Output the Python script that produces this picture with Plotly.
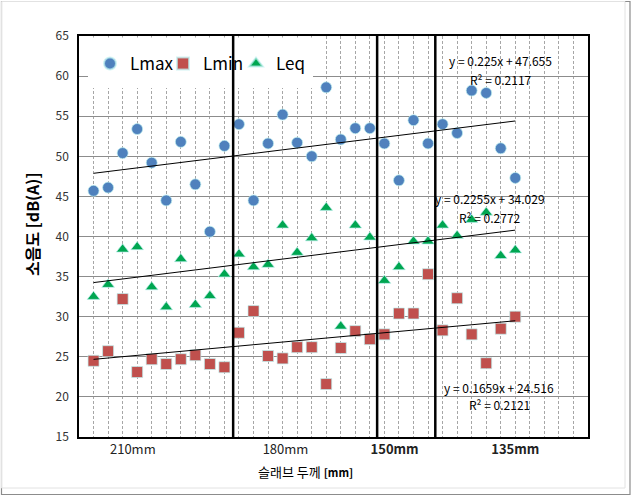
import plotly.graph_objects as go

# ---------------- data ----------------
idx = list(range(1, 31))
lmax = [45.7, 46.1, 50.4, 53.4, 49.2, 44.5, 51.8, 46.5, 40.6, 51.3,
        54.0, 44.5, 51.6, 55.2, 51.7, 50.0, 58.6, 52.1, 53.5, 53.5,
        51.6, 47.0, 54.5, 51.6, 54.0, 52.9, 58.2, 57.9, 51.0, 47.3]
lmin = [24.5, 25.7, 32.2, 23.1, 24.7, 24.1, 24.7, 25.2, 24.1, 23.7,
        28.0, 30.7, 25.1, 24.8, 26.2, 26.2, 21.6, 26.1, 28.2, 27.2,
        27.8, 30.4, 30.4, 35.3, 28.3, 32.3, 27.8, 24.2, 28.5, 30.0]
leq = [32.5, 34.0, 38.4, 38.7, 33.7, 31.2, 37.2, 31.5, 32.6, 35.3,
       37.8, 36.2, 36.5, 41.4, 38.0, 39.8, 43.6, 28.8, 41.4, 39.9,
       34.5, 36.2, 39.4, 39.4, 41.4, 40.1, 42.1, 43.0, 37.6, 38.3]

series_names = ["Lmax", "Lmin", "Leq"]
slopes = [0.225, 0.1659, 0.2255]
intercepts = [47.655, 24.516, 34.029]
eq_texts = ["y = 0.225x + 47.655", "y = 0.1659x + 24.516", "y = 0.2255x + 34.029"]
r2_texts = ["R² = 0.2117", "R² = 0.2121", "R² = 0.2772"]

group_labels = ["210mm", "180mm", "<b>150mm</b>", "<b>135mm</b>"]
group_label_pos = [3.7, 14.2, 21.7, 30.0]
divider_x = [10.6, 20.5, 24.5]

colors = ["#4F81BD", "#C0504D", "#00A651"]
symbols = ["circle", "square", "triangle-up"]

FONT = "Noto Sans CJK KR, Liberation Sans, sans-serif"

fig = go.Figure()
for name, vals, col, sym in zip(series_names, [lmax, lmin, leq], colors, symbols):
    fig.add_trace(go.Scatter(
        x=idx, y=vals, mode="markers", name=name,
        marker=dict(color=col, symbol=sym, size=11,
                    line=dict(color="rgba(190,240,240,0.7)", width=1)),
    ))

# trendlines
for a, b in zip(slopes, intercepts):
    xs = [idx[0], idx[-1]]
    fig.add_trace(go.Scatter(
        x=xs, y=[a * v + b for v in xs], mode="lines",
        line=dict(color="black", width=1), showlegend=False, hoverinfo="skip",
    ))

# equation annotations
eq_pos = [(29.0, 61.9, 59.6), (28.9, 21.2, 19.0), (28.25, 44.8, 42.4)]
for (ex, ey1, ey2), t1, t2 in zip(eq_pos, eq_texts, r2_texts):
    fig.add_annotation(x=ex, y=ey1, xref="x", yref="y", text=t1, showarrow=False,
                       font=dict(family=FONT, size=12, color="black"))
    fig.add_annotation(x=ex, y=ey2, xref="x", yref="y", text=t2, showarrow=False,
                       font=dict(family=FONT, size=12, color="black"))

# white box behind legend (covers grid only; no data there)
fig.add_shape(type="rect", xref="paper", yref="paper",
              x0=(88 - 79) / 509, x1=(313 - 79) / 509,
              y0=(437 - 88) / 401, y1=(437 - 37.5) / 401,
              fillcolor="#FFFFFF", line=dict(width=0, color="#FFFFFF"), layer="above")

# thick dividers
for dx in divider_x:
    fig.add_shape(type="line", xref="x", yref="y", x0=dx, x1=dx, y0=14.7, y1=65.4,
                  line=dict(color="black", width=2.5), layer="above")

# outer chart frame
fig.add_shape(type="rect", xref="paper", yref="paper",
              x0=(1.5 - 79) / 509, x1=(630 - 79) / 509,
              y0=(437 - 494.5) / 401, y1=(437 - 1.5) / 401,
              line=dict(color="#8C8C8C", width=1.2), fillcolor="rgba(0,0,0,0)")
fig.add_shape(type="rect", xref="paper", yref="paper",
              x0=(1.5 - 79) / 509, x1=(625 - 79) / 509,
              y0=(437 - 488) / 401, y1=(437 - 1.5) / 401,
              line=dict(color="#E2E2E2", width=1), fillcolor="rgba(0,0,0,0)")

# axis titles
fig.add_annotation(xref="paper", yref="paper", x=(32 - 79) / 509, y=(437 - 225) / 401,
                   xanchor="center", yanchor="middle",
                   text="<b>소음도 [dB(A)]</b>", textangle=-90, showarrow=False,
                   font=dict(family=FONT, size=16, color="black"))
fig.add_annotation(xref="paper", yref="paper", x=(305 - 79) / 509, y=(437 - 471) / 401,
                   yanchor="middle", xanchor="center",
                   text="슬래브 두께 <b><span style='font-size:11px'>[mm]</span></b>",
                   showarrow=False, font=dict(family=FONT, size=13, color="black"))

fig.update_layout(
    width=632, height=497,
    margin=dict(l=79, r=44, t=36, b=60),
    paper_bgcolor="white", plot_bgcolor="white",
    font=dict(family=FONT, size=12, color="#222"),
    showlegend=True,
    legend=dict(orientation="h", x=(90 - 79) / 509, y=(437 - 46) / 401,
                xanchor="left", yanchor="top", bgcolor="rgba(0,0,0,0)",
                font=dict(family=FONT, size=17, color="black"),
                entrywidth=28, itemsizing="constant"),
    xaxis=dict(range=[0, 35], tickvals=group_label_pos, ticktext=group_labels,
               showgrid=False, zeroline=False, showline=True, linecolor="black",
               linewidth=1.5, mirror=True, ticks="", tickfont=dict(size=13, color="#222"),
               minor=dict(tick0=0, dtick=1, showgrid=True, gridcolor="#A6A6A6",
                          griddash="3px,2px", gridwidth=1)),
    yaxis=dict(range=[15, 65], dtick=5, showgrid=True, gridcolor="#8C8C8C",
               gridwidth=1, zeroline=False, showline=True, linecolor="black",
               linewidth=1.5, mirror=True, ticks="", ticklabelstandoff=6,
               tickfont=dict(size=12, color="#333")),
)

fig.write_html("out.html")
